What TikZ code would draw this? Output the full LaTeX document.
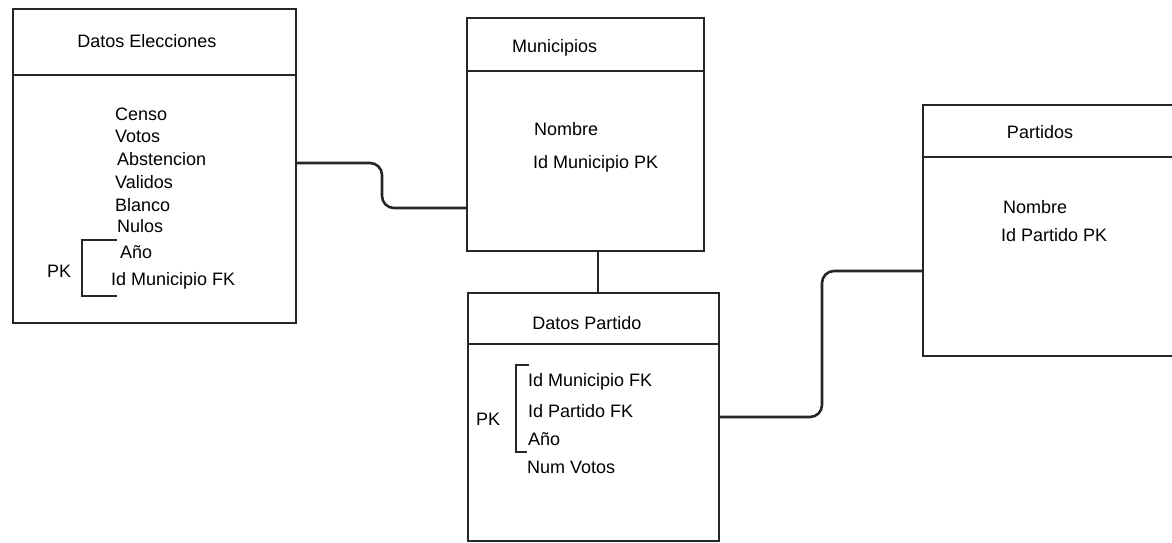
\documentclass[tikz,border=0pt]{standalone}
\usepackage{fontspec}
\setmainfont{Liberation Sans}
\begin{document}
\begin{tikzpicture}[x=1pt,y=-1pt,
  tbl/.style={draw=black!85, line width=2.2pt, rectangle, inner sep=0pt, anchor=north west},
  conn/.style={draw=black!85, line width=2.6pt, rounded corners=12pt},
  brk/.style={draw=black!85, line width=2.4pt},
  fld/.style={anchor=base west, inner sep=0pt, font=\fontsize{18}{20}\selectfont},
  ttl/.style={anchor=base, inner sep=0pt, font=\fontsize{18}{20}\selectfont}]
\useasboundingbox (0,0) rectangle (1172,542);
% boxes
\node[tbl, minimum width=283pt, minimum height=314pt] (de) at (12,8) {};
\node[tbl, minimum width=237pt, minimum height=233pt] (mu) at (466,17) {};
\node[tbl, minimum width=251pt, minimum height=248pt] (dp) at (467,292) {};
\node[tbl, minimum width=250pt, minimum height=251pt] (pa) at (922,104) {};
% header lines
\draw[black!85, line width=2.2pt] (de.west |- 0,75) -- (de.east |- 0,75);
\draw[black!85, line width=2.2pt] (mu.west |- 0,71) -- (mu.east |- 0,71);
\draw[black!85, line width=2.2pt] (dp.west |- 0,344) -- (dp.east |- 0,344);
\draw[black!85, line width=2.2pt] (pa.west |- 0,157) -- (pa.east |- 0,157);
% Datos Elecciones
\node[ttl] (deT) at (147,47) {Datos Elecciones};
\node[fld] (de1) at (115,120) {Censo};
\node[fld] (de2) at (115,142) {Votos};
\node[fld] (de3) at (117,165) {Abstencion};
\node[fld] (de4) at (115,188) {Validos};
\node[fld] (de5) at (115,211) {Blanco};
\node[fld] (de6) at (117,232) {Nulos};
\node[fld] (de7) at (120,258) {Año};
\node[fld] (de8) at (111,285) {Id Municipio FK};
\node[fld] (dePK) at (47,277) {PK};
\draw[brk] (117,240) -- (82,240) -- (82,296) -- (117,296);
% Municipios
\node[fld] (muT) at (512,52) {Municipios};
\node[fld] (mu1) at (534,135) {Nombre};
\node[fld] (mu2) at (533,168) {Id Municipio PK};
% Datos Partido
\node[ttl] (dpT) at (587,329) {Datos Partido};
\node[fld] (dp1) at (528,386) {Id Municipio FK};
\node[fld] (dp2) at (528,417) {Id Partido FK};
\node[fld] (dp3) at (528,445) {Año};
\node[fld] (dp4) at (527,473) {Num Votos};
\node[fld] (dpPK) at (476,425) {PK};
\draw[brk] (529,365) -- (516,365) -- (516,452) -- (527,452);
% Partidos
\node[ttl] (paT) at (1040,138) {Partidos};
\node[fld] (pa1) at (1003,213) {Nombre};
\node[fld] (pa2) at (1001,241) {Id Partido PK};
% connectors
\draw[conn] (de.east |- 0,163) -- (382,163) -- (382,208) -- (mu.west |- 0,208);
\draw[conn] (mu.south -| 598,0) -- (dp.north -| 598,0);
\draw[conn] (dp.east |- 0,417) -- (822,417) -- (822,271) -- (pa.west |- 0,271);
\end{tikzpicture}
\end{document}
